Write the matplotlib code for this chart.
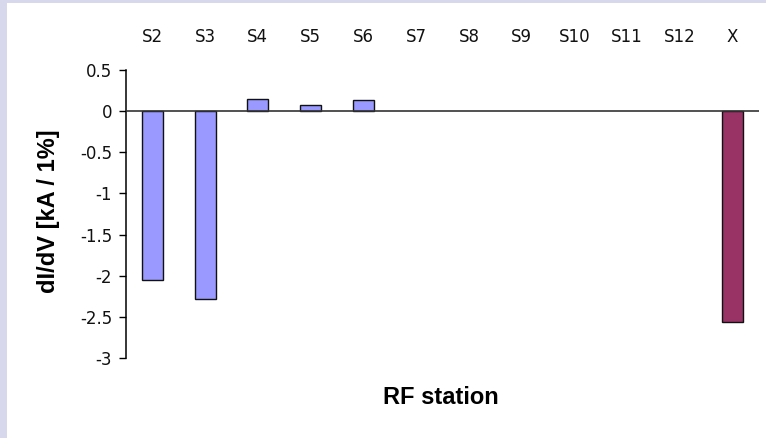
import numpy as np
import matplotlib
matplotlib.use("Agg")
import matplotlib.pyplot as plt
from matplotlib.patches import Rectangle

# data
stations = ["S2", "S3", "S4", "S5", "S6", "S7", "S8", "S9", "S10", "S11", "S12", "X"]
didv = [-2.05, -2.28, 0.15, 0.08, 0.13, 0, 0, 0, 0, 0, 0, -2.56]
bar_colors = ["#9999FF"] * 11 + ["#993366"]

plt.rcParams["font.family"] = ["Liberation Sans", "DejaVu Sans"]

W, H = 766, 438
fig = plt.figure(figsize=(W / 100, H / 100), dpi=100)
fig.patch.set_facecolor("#D8D8EC")
# white slide panel, behind everything
fig.patches.append(Rectangle((7 / W, 0), 1 - 7 / W, 1 - 3 / H, transform=fig.transFigure,
                             facecolor="white", edgecolor="none", zorder=-10))

# axes placement in pixels: x 126..759, y (0.5 at 70) .. (-3 at 358)
left, right = 126, 759
top, bottom = 70, 358
ax = fig.add_axes([left / W, 1 - bottom / H, (right - left) / W, (bottom - top) / H])
ax.set_facecolor("none")

x = np.arange(len(stations))
nonzero = [i for i, v in enumerate(didv) if v != 0]
ax.bar(x[nonzero], [didv[i] for i in nonzero], width=0.4,
       color=[bar_colors[i] for i in nonzero], edgecolor="#111111", linewidth=1.0, zorder=2)

ax.set_xlim(-0.5, len(stations) - 0.5)
ax.set_ylim(-3, 0.5)
ax.set_yticks(np.arange(-3, 0.51, 0.5))
ax.set_yticklabels(["-3", "-2.5", "-2", "-1.5", "-1", "-0.5", "0", "0.5"])
ax.tick_params(axis="y", direction="out", length=5, width=1, labelsize=12, pad=5)

ax.set_xticks(x)
ax.set_xticklabels(stations)
ax.xaxis.set_ticks_position("top")
ax.tick_params(axis="x", length=0, labelsize=12, pad=17)

for lbl in ax.get_xticklabels() + ax.get_yticklabels():
    lbl.set_family("DejaVu Sans")
    lbl.set_color("#111111")

for s in ["top", "right", "bottom"]:
    ax.spines[s].set_visible(False)
ax.spines["left"].set_linewidth(1.1)
ax.axhline(0, color="#333333", linewidth=1.2, zorder=3)

fig.text(49 / W, 1 - 211 / H, "dI/dV [kA / 1%]", rotation=90, ha="center", va="center",
         fontsize=17, fontweight="bold")
fig.text(441 / W, 1 - 398 / H, "RF station", ha="center", va="center",
         fontsize=17, fontweight="bold")

fig.savefig("out.png", dpi=100, facecolor=fig.get_facecolor())
